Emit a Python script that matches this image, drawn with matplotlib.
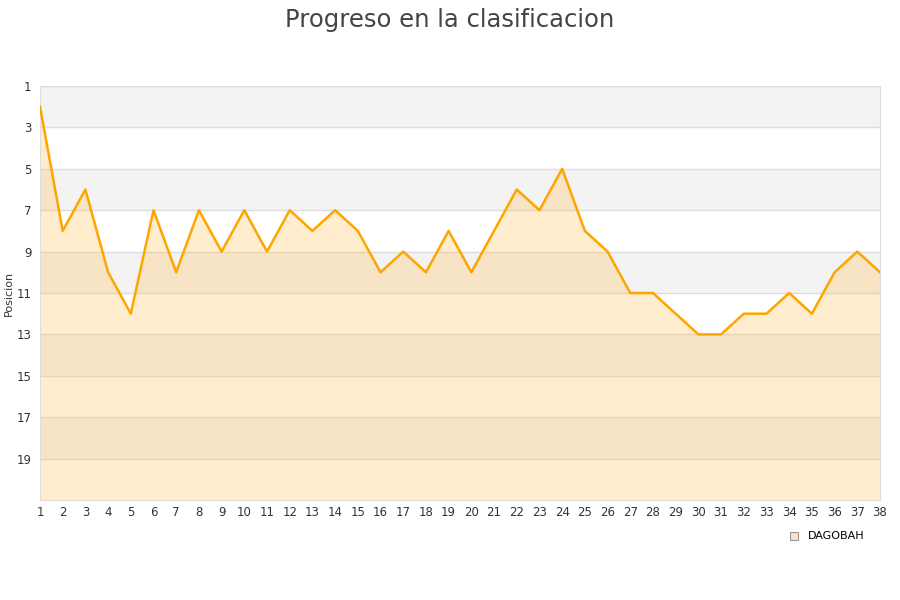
import numpy as np
import matplotlib.pyplot as plt

jornadas = list(range(1, 39))
posiciones = [2, 8, 6, 10, 12, 7, 10, 7, 9, 7, 9, 7, 8, 7, 8, 10, 9, 10, 8, 10,
              8, 6, 7, 5, 8, 9, 11, 11, 12, 13, 13, 12, 12, 11, 12, 10, 9, 10]
equipo = "DAGOBAH"
y_ticks = list(range(1, 21, 2))

fig = plt.figure(figsize=(9, 6), dpi=100)
ax = fig.add_axes([40 / 900, 100 / 600, 840 / 900, 414 / 600])

# bandas alternas de fondo
for i, y0 in enumerate(range(1, 21, 2)):
    color = '#f3f3f3' if i % 2 == 0 else 'white'
    ax.axhspan(y0, y0 + 2, color=color, zorder=0, lw=0)
    ax.axhline(y0, color='#dddddd', lw=1, zorder=1)

ax.fill_between(jornadas, posiciones, 21, color='#ffc04d', alpha=0.28, lw=0, zorder=2)
ax.plot(jornadas, posiciones, color='#ffa500', lw=1.8, zorder=3, label=equipo)

ax.set_xlim(1, 38)
ax.set_ylim(21, 1)
ax.set_xticks(jornadas)
ax.set_yticks(y_ticks)
ax.tick_params(axis='both', length=0, labelsize=8.5, colors='#333333')
ax.tick_params(axis='y', pad=6)
ax.tick_params(axis='x', pad=4)
for s in ax.spines.values():
    s.set_color('#dddddd')

ax.set_ylabel("Posicion", fontsize=8, color='#333333', labelpad=2)
fig.suptitle("Progreso en la clasificacion", fontsize=17.5, color='#444444', y=0.987)

# leyenda con marcador cuadrado
fig.legend(handles=[plt.Line2D([], [], marker='s', ls='', markersize=6,
                               markerfacecolor='#fde3c0', markeredgecolor='#999999', mew=0.8)],
           labels=[equipo], loc='center right', bbox_to_anchor=(0.972, 0.106),
           frameon=False, fontsize=8, handletextpad=0.3)

fig.savefig("out.png", dpi=100)
